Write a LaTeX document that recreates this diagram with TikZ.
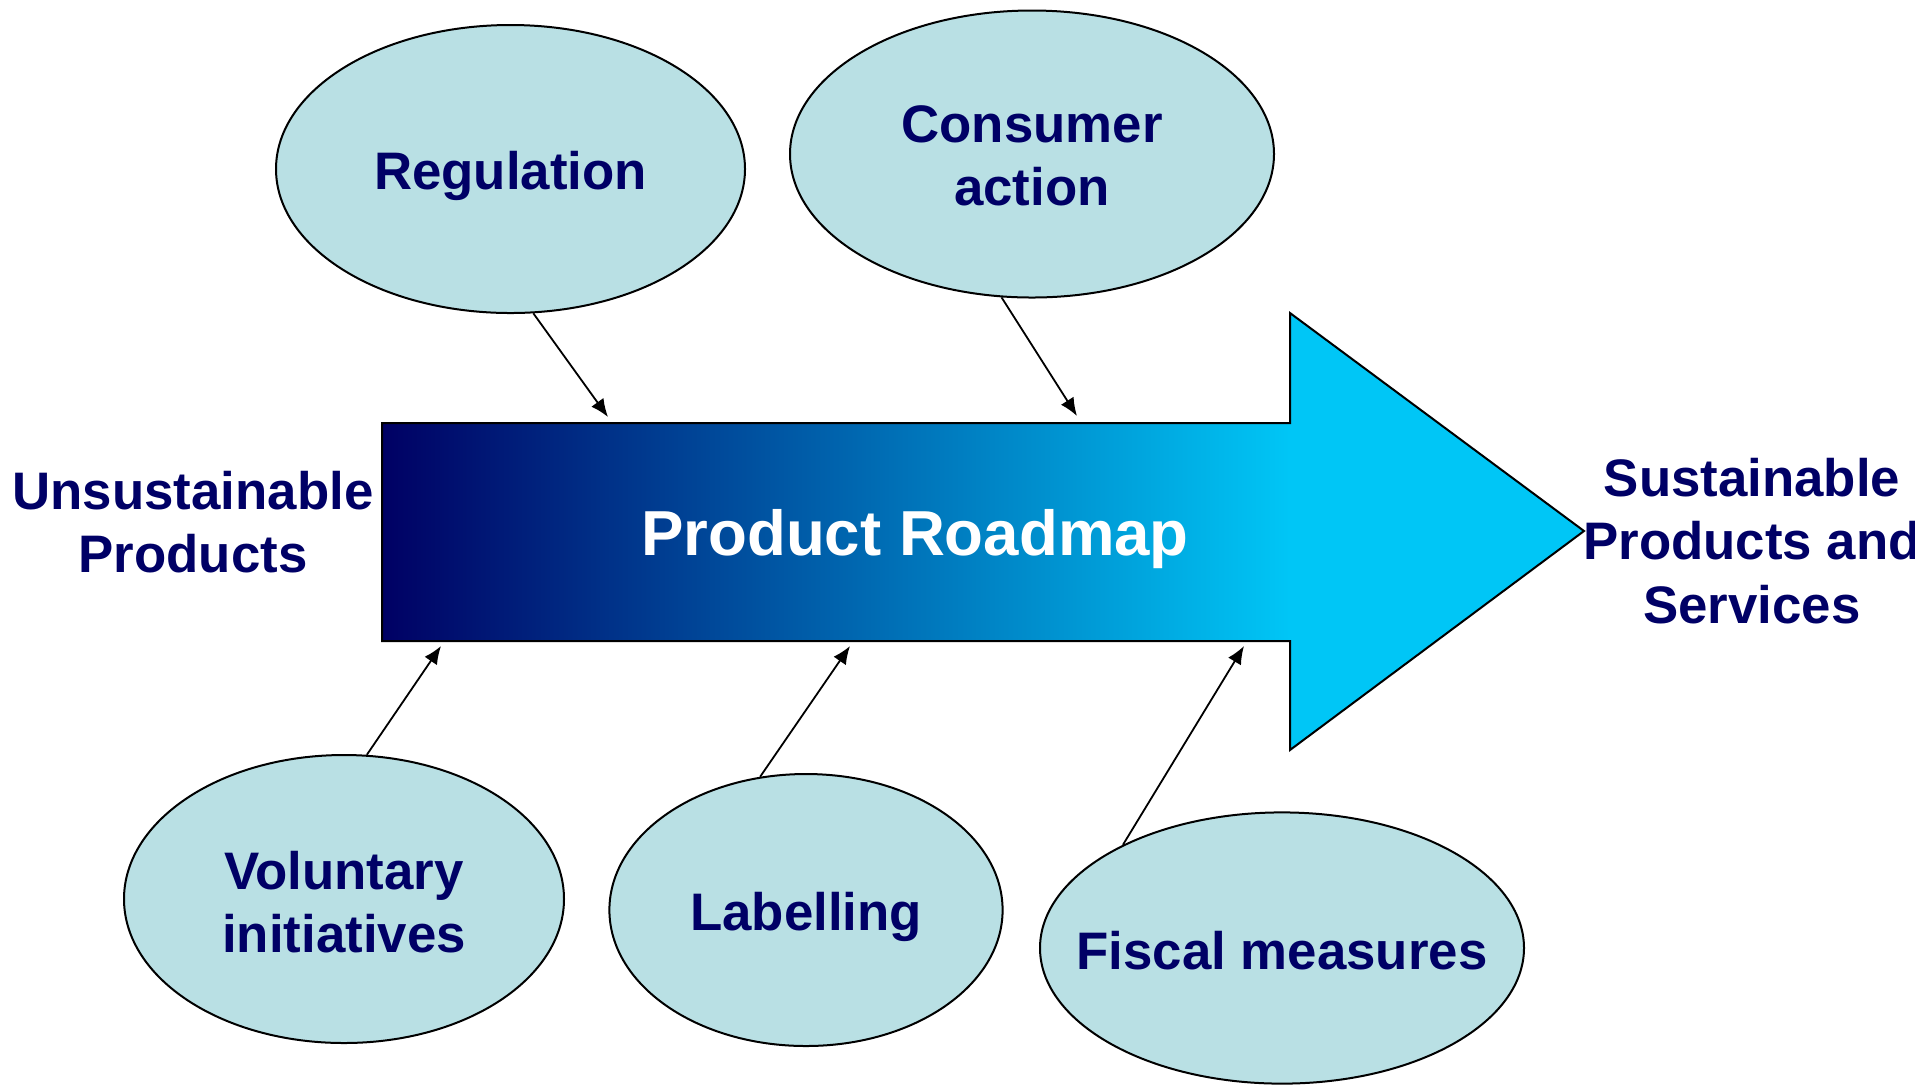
\documentclass[tikz,border=0pt]{standalone}
\usepackage{fontspec}
\setmainfont{Liberation Sans}
\usepackage{xcolor}
\usetikzlibrary{shapes.geometric,arrows.meta}

\definecolor{navytext}{RGB}{0,0,102}
\definecolor{bubblefill}{RGB}{185,224,228}
\definecolor{roadnavy}{RGB}{0,0,100}
\definecolor{roadteal}{RGB}{0,112,158}
\definecolor{roadcyan}{RGB}{0,198,246}

\tikzset{
  bubble/.style={ellipse, draw=black, line width=1pt, fill=bubblefill, inner sep=0pt},
  bubbletext/.style={text=navytext, align=center, font=\fontsize{26.4}{31.7}\selectfont\bfseries},
  push/.style={-{Latex[length=9pt,width=7.5pt]}, line width=0.9pt}
}

\begin{document}
\begin{tikzpicture}[x=0.5pt,y=-0.5pt]
            \useasboundingbox (0,0) rectangle (1915,1084);

            % Roadmap arrow
            \shade[left color=roadnavy, middle color=roadteal, right color=roadcyan] (382,423) rectangle (1290,641);
            \fill[roadcyan] (1290,423) -- (1290,313) -- (1584,531) -- (1290,750) -- (1290,641) -- cycle;
            \draw[line width=1pt] (382,423) -- (1290,423) -- (1290,313) -- (1584,531)
                -- (1290,750) -- (1290,641) -- (382,641) -- cycle;
            \node[text=white, font=\fontsize{31.8}{38}\selectfont\bfseries] (road) at (915,539) {Product Roadmap};

            % Start and goal
            \node[bubbletext] (from) at (193,522) {Unsustainable\\Products};
            \node[bubbletext] (goal) at (1752,541) {Sustainable\\Products and\\Services};

            % Drivers
            \node[bubble, minimum width=234.5pt, minimum height=144pt] (reg) at (510.5,169) {};
            \node[bubble, minimum width=242pt, minimum height=143.5pt] (con) at (1032,154) {};
            \node[bubble, minimum width=220pt, minimum height=144pt] (vol) at (344,899) {};
            \node[bubble, minimum width=196.6pt, minimum height=136pt] (lab) at (806,910) {};
            \node[bubble, minimum width=242pt, minimum height=135.6pt] (fis) at (1282,948) {};

            \node[bubbletext] (reg-txt) at (510.5,176) {Regulation};
            \node[bubbletext] (con-txt) at (1032,156) {Consumer\\action};
            \node[bubbletext] (vol-txt) at (344,902) {Voluntary\\initiatives};
            \node[bubbletext] (lab-txt) at (806,917) {Labelling};
            \node[bubbletext] (fis-txt) at (1282,951) {Fiscal measures};

            % Where the drivers hit the roadmap
            \coordinate (t1) at (608,417);
            \coordinate (t2) at (1077,416);
            \coordinate (b1) at (441,646);
            \coordinate (b2) at (850,646);
            \coordinate (b3) at (1244,646);

            \foreach \a/\b in {reg.-81/t1, con.-102/t2, vol.81/b1, lab.109/b2, fis.147/b3} {
                \draw[push] (\a) -- (\b);
            }
        \end{tikzpicture}
\end{document}
